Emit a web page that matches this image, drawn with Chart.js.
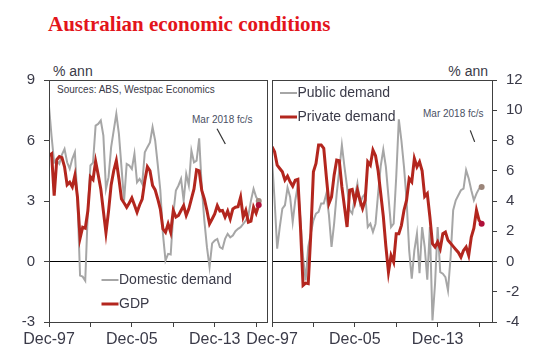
<!DOCTYPE html>
<html>
<head>
<meta charset="utf-8">
<script src="https://cdn.jsdelivr.net/npm/chart.js@4.4.1/dist/chart.umd.min.js"></script>
<style>
  body { margin: 0; background: #fff; width: 549px; height: 363px; overflow: hidden; position: relative;
         font-family: "Liberation Sans", Arial, sans-serif; }
  canvas { position: absolute; left: 0; top: 0; }
  .txt { position: absolute; white-space: nowrap; color: #3a3a48; line-height: 1; }
  #title { left: 48px; top: 12px; font: bold 21px "Liberation Serif", "Times New Roman", serif; color: #e3151b; }
</style>
</head>
<body>
<div id="title" class="txt">Australian economic conditions</div>
<div class="txt" style="left:53px;top:64px;font-size:14px">% ann</div>
<div class="txt" style="right:61px;top:64px;font-size:14px">% ann</div>
<div class="txt" style="left:57px;top:85px;font-size:10px">Sources: ABS, Westpac Economics</div>
<div class="txt" style="left:192px;top:115px;font-size:10px;color:#4a5064">Mar 2018 fc/s</div>
<div class="txt" style="left:423px;top:109px;font-size:10px;color:#4a5064">Mar 2018 fc/s</div>
<canvas id="left" width="549" height="363"></canvas>
<canvas id="right" width="549" height="363"></canvas>
<script>
// quarterly, Dec-97 (index 0) to Mar-18 (index 81, forecast)
const xTickLabels = ['Dec-97', 'Dec-05', 'Dec-13'];
const xTicks = [0, 16, 32, 48, 64, 80];
const leftTicks = [-3, 0, 3, 6, 9];
const rightTicks = [-4, -2, 0, 2, 4, 6, 8, 10, 12];

const domesticDemand = [7.7, 6.2, 4.9, 5.0, 4.84, 5.3, 5.58, 4.92, 4.6, 5.09,
  5.42, 3.0, -0.7, -0.75, -0.95, 2.5, 4.76, 4.9, 6.74, 6.82,
  6.99, 6.24, 3.6, 4.18, 5.67, 6.5, 7.32, 6.33, 4.67, 3.02,
  4.84, 4.76, 4.59, 5.34, 3.93, 4.1, 3.85, 5.42, 5.67, 5.9,
  6.66, 6.0, 4.8, 3.52, 1.37, 0.05, 0.38, 0.35, 2.36, 3.52,
  3.77, 4.1, 3.02, 4.34, 3.77, 5.5, 4.92, 5.0, 6.11, 3.68,
  2.03, 0.71, -0.28, 0.9, 1.04, 1.12, 0.71, 0.63, 1.12, 1.37,
  1.2, 1.29, 1.5, 1.62, 1.7, 1.86, 2.03, 2.28, 3.02, 3.6,
  3.19, 3.0];
const gdp = [5.25, 5.34, 3.27, 5.05, 5.2, 5.15, 4.7, 3.8, 3.93, 3.7,
  4.26, 3.19, 1.15, 1.7, 1.65, 2.5, 4.2, 4.06, 4.97, 4.3,
  3.6, 2.5, 1.42, 2.5, 3.8, 4.5, 5.0, 4.1, 3.1, 2.9,
  2.69, 2.9, 3.15, 2.8, 2.44, 2.8, 3.1, 4.0, 4.7, 4.5,
  3.77, 3.55, 3.1, 2.6, 1.62, 1.45, 1.87, 1.45, 2.53, 2.2,
  2.28, 2.53, 2.77, 2.28, 2.61, 3.1, 3.6, 4.55, 4.5, 3.52,
  3.1, 2.53, 1.87, 2.11, 2.36, 2.77, 2.5, 2.53, 2.2, 2.5,
  2.11, 2.61, 2.69, 2.72, 3.19, 2.2, 2.53, 1.95, 2.0, 2.7,
  2.4, 2.8];
const publicDemand = [6.81, 4.05, 0.85, 2.28, 3.5, 3.72, 4.89, 4.27, 2.61, 4.05,
  5.04, 2.72, 0.29, -1.25, 0.96, 1.84, 2.72, 3.17, 3.28, 3.83,
  3.83, 4.49, 3.06, 0.96, 2.5, 4.49, 6.04, 7.7, 6.26, 4.93,
  3.39, 3.17, 4.27, 5.16, 3.83, 4.27, 4.49, 2.28, 2.5, 1.95,
  2.5, 4.5, 6.3, 7.4, 6.26, 4.27, 2.28, 2.5, 5.6, 9.4,
  8.0, 6.26, 4.05, 0.73, -1.14, 0.73, 1.84, -0.77, 2.28, 0.96,
  -1.2, 2.28, -3.9, -1.47, 2.28, -0.7, -0.81, -1.03, -1.92, 0.29,
  3.39, 4.05, 4.38, 4.71, 4.82, 6.04, 5.49, 4.71, 4.05, 4.49,
  4.82, 4.93];
const privateDemand = [7.59, 7.25, 6.37, 6.15, 5.93, 5.38, 5.64, 5.27, 4.98, 5.38,
  5.44, 2.28, -1.58, -1.43, -1.47, 1.84, 5.93, 6.48, 7.7, 7.7,
  7.48, 5.6, 3.83, 4.27, 5.71, 6.7, 6.66, 4.93, 3.61, 2.28,
  4.71, 4.76, 3.94, 4.71, 4.05, 3.5, 4.05, 6.59, 6.37, 7.37,
  7.0, 6.0, 4.5, 3.0, 1.0, -0.7, 0.4, -0.04, 1.84, 1.84,
  2.39, 3.39, 4.05, 5.49, 5.27, 6.81, 6.26, 6.59, 6.0, 4.3,
  4.49, 2.95, 1.18, 0.96, 1.29, 0.85, 1.84, 1.95, 1.4, 1.2,
  1.0, 0.8, 0.6, 0.29, 0.73, 0.96, 0.4, 1.62, 2.2, 3.39,
  2.72, 2.5];

const GREY = '#a6a6a6';
const RED = '#b3261e';
const FONT = '"Liberation Sans", Arial, sans-serif';
const INK = '#3a3a48';

function series(label, values, color, width, dotColor, order) {
  const last = values.length - 1;
  return {
    label: label,
    data: values.map((v, i) => ({ x: i, y: v })),
    borderColor: color,
    borderWidth: width,
    order: order,
    tension: 0,
    pointRadius: ctx => ctx.dataIndex === last ? 3 : 0,
    pointBackgroundColor: dotColor,
    pointBorderWidth: 0
  };
}

// frame round the plot, small legend, forecast pointer
const panelExtras = {
  id: 'panelExtras',
  afterDraw(chart, args, opts) {
    const { ctx, chartArea: a, scales } = chart;
    ctx.save();
    ctx.strokeStyle = '#404040';
    ctx.lineWidth = 1;
    ctx.strokeRect(Math.round(a.left) + 0.5, Math.round(a.top) + 0.5,
      Math.round(a.right - a.left), Math.round(a.bottom - a.top));

    opts.legend.forEach((idx, k) => {
      const ds = chart.data.datasets[idx];
      const y = opts.legendY[k];
      const x = a.left + opts.legendX;
      ctx.strokeStyle = ds.borderColor;
      ctx.lineWidth = ds.borderWidth;
      ctx.beginPath();
      ctx.moveTo(x, y);
      ctx.lineTo(x + 17, y);
      ctx.stroke();
      ctx.fillStyle = INK;
      ctx.font = '14px ' + FONT;
      ctx.textBaseline = 'middle';
      ctx.fillText(ds.label, x + 17.5, y + 0.5);
    });

    const n = opts.note;
    ctx.strokeStyle = '#333';
    ctx.lineWidth = 1.2;
    ctx.beginPath();
    ctx.moveTo(scales.x.getPixelForValue(n[0]), scales.y.getPixelForValue(n[1]));
    ctx.lineTo(scales.x.getPixelForValue(n[2]), scales.y.getPixelForValue(n[3]));
    ctx.stroke();
    ctx.restore();
  }
};

function options(side, ticks, xMax, extras) {
  return {
    responsive: false,
    animation: false,
    layout: { padding: side === 'left'
      ? { left: 0, right: 282.5, top: 80, bottom: 0 }
      : { left: 272, right: 0, top: 80, bottom: 0 } },
    plugins: { legend: { display: false }, tooltip: { enabled: false }, panelExtras: extras },
    scales: {
      x: {
        type: 'linear', min: 0, max: xMax,
        afterBuildTicks: s => { s.ticks = xTicks.map(v => ({ value: v })); },
        afterFit: s => { s.height = 41; },
        grid: { drawOnChartArea: false, tickLength: 5, tickColor: '#404040' },
        border: { display: false },
        ticks: {
          autoSkip: false, maxRotation: 0, padding: 3, color: INK,
          font: { family: FONT, size: 16 },
          callback: v => v % 32 === 0 ? xTickLabels[v / 32] : ''
        }
      },
      y: {
        position: side, min: ticks[0], max: ticks[ticks.length - 1],
        afterBuildTicks: s => { s.ticks = ticks.map(v => ({ value: v })); },
        afterFit: s => { s.width = side === 'left' ? 49 : 57; },
        grid: {
          color: c => c.tick && c.tick.value === 0 ? '#000' : 'rgba(0,0,0,0)',
          lineWidth: 1, tickLength: 5, tickColor: '#404040'
        },
        border: { display: false },
        ticks: { padding: 9, color: INK, font: { family: FONT, size: 15 } }
      }
    }
  };
}

new Chart(document.getElementById('left'), {
  type: 'line',
  data: { datasets: [
    series('Domestic demand', domesticDemand, GREY, 2, '#a08c80', 1),
    series('GDP', gdp, RED, 3, '#b0103a', 0)
  ] },
  options: options('left', leftTicks, 84, { legend: [0, 1], legendX: 52.5, legendY: [280, 304], note: [64.9, 6.58, 68.1, 5.83] }),
  plugins: [panelExtras]
});

new Chart(document.getElementById('right'), {
  type: 'line',
  data: { datasets: [
    series('Public demand', publicDemand, GREY, 2, '#9b8579', 1),
    series('Private demand', privateDemand, RED, 3, '#b0103a', 0)
  ] },
  options: options('right', rightTicks, 85, { legend: [0, 1], legendX: 8, legendY: [93, 117], note: [76.6, 8.67, 78.3, 7.91] }),
  plugins: [panelExtras]
});
</script>
</body>
</html>
